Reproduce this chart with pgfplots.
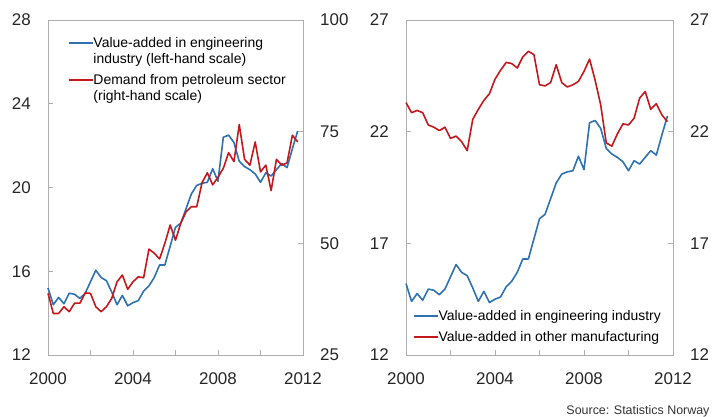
\documentclass[border=0pt]{standalone}
\usepackage{fontspec}
\setmainfont{Liberation Sans}
\usepackage{pgfplots}
\pgfplotsset{compat=1.18}
\usepackage{pgfplotstable}

\definecolor{engblue}{RGB}{46,114,178}
\definecolor{petred}{RGB}{196,24,28}
\definecolor{axgray}{RGB}{175,175,175}

% value-added in engineering industry (quarterly)
\pgfplotstableread{
t eng
2000.00 15.2
2000.25 14.4
2000.50 14.75
2000.75 14.45
2001.00 14.95
2001.25 14.9
2001.50 14.7
2001.75 14.95
2002.00 15.5
2002.25 16.05
2002.50 15.7
2002.75 15.55
2003.00 15.0
2003.25 14.4
2003.50 14.85
2003.75 14.35
2004.00 14.5
2004.25 14.6
2004.50 15.05
2004.75 15.3
2005.00 15.7
2005.25 16.3
2005.50 16.3
2005.75 17.2
2006.00 18.1
2006.25 18.3
2006.50 19.0
2006.75 19.7
2007.00 20.1
2007.25 20.2
2007.50 20.25
2007.75 20.9
2008.00 20.3
2008.25 22.4
2008.50 22.5
2008.75 22.15
2009.00 21.25
2009.25 21.0
2009.50 20.85
2009.75 20.65
2010.00 20.25
2010.25 20.7
2010.50 20.55
2010.75 20.85
2011.00 21.15
2011.25 20.95
2011.50 21.85
2011.75 22.7
}\engtab

% demand from petroleum sector (right-hand scale)
\pgfplotstableread{
t oil
2000.00 38.8
2000.25 34.3
2000.50 34.3
2000.75 35.8
2001.00 34.7
2001.25 36.6
2001.50 36.6
2001.75 38.9
2002.00 38.8
2002.25 35.8
2002.50 34.7
2002.75 35.8
2003.00 37.7
2003.25 41.4
2003.50 42.9
2003.75 39.7
2004.00 41.4
2004.25 42.5
2004.50 42.3
2004.75 48.7
2005.00 47.8
2005.25 46.5
2005.50 50.0
2005.75 54.1
2006.00 50.7
2006.25 54.5
2006.50 57.1
2006.75 58.2
2007.00 58.2
2007.25 63.6
2007.50 65.8
2007.75 63.1
2008.00 64.8
2008.25 66.8
2008.50 70.3
2008.75 68.3
2009.00 76.6
2009.25 68.8
2009.50 67.5
2009.75 72.7
2010.00 66.0
2010.25 67.5
2010.50 61.8
2010.75 68.8
2011.00 67.5
2011.25 68.0
2011.50 74.2
2011.75 72.7
}\oiltab

% value-added in other manufacturing
\pgfplotstableread{
t manu
2000.00 23.3
2000.25 22.85
2000.50 22.95
2000.75 22.85
2001.00 22.3
2001.25 22.2
2001.50 22.05
2001.75 22.2
2002.00 21.7
2002.25 21.8
2002.50 21.55
2002.75 21.15
2003.00 22.55
2003.25 23.0
2003.50 23.4
2003.75 23.7
2004.00 24.35
2004.25 24.75
2004.50 25.1
2004.75 25.05
2005.00 24.85
2005.25 25.35
2005.50 25.6
2005.75 25.45
2006.00 24.1
2006.25 24.05
2006.50 24.2
2006.75 25.0
2007.00 24.2
2007.25 24.0
2007.50 24.1
2007.75 24.25
2008.00 24.7
2008.25 25.25
2008.50 24.3
2008.75 23.2
2009.00 21.5
2009.25 21.35
2009.50 21.9
2009.75 22.35
2010.00 22.3
2010.25 22.6
2010.50 23.5
2010.75 23.8
2011.00 23.0
2011.25 23.25
2011.50 22.75
2011.75 22.45
}\manutab

\tikzset{series/.style={line width=1.6bp, line join=round}}
\newcommand{\legtext}[1]{\begin{tabular}[t]{@{}l@{}}#1\end{tabular}}

\pgfplotsset{
  panel/.style={
    scale only axis, anchor=south west,
    height=335bp,
    xmin=2000, xmax=2012,
    xtick={2000,2004,2008,2012}, minor xtick={2002,2006,2010},
    tick align=inside, major tick length=5bp, minor tick length=5bp,
    axis line style={axgray, line width=0.8bp},
    every tick/.style={axgray, line width=0.8bp},
    tick label style={font=\fontsize{17}{17}\selectfont, text=black!85},
    /pgf/number format/assume math mode=true,
    /pgf/number format/1000 sep={},
    xticklabel style={inner sep=0pt, anchor=north, yshift=-17bp},
    yticklabel style={inner sep=0pt},
    clip=false,
  },
  leftscale/.style={panel, tick pos=left, yticklabel style={anchor=east, xshift=-17bp}},
  rightscale/.style={panel, axis y line*=right, axis x line=none,
    yticklabel style={anchor=west, xshift=17bp}},
  leg/.style={
    legend cell align=left,
    legend image code/.code={\draw[##1, line width=1.6bp] (0bp,5bp) -- (24bp,5bp);},
    legend style={draw=none, fill=none, inner sep=0pt, outer sep=0pt,
      row sep=5bp, font=\fontsize{14}{16}\selectfont,
      cells={anchor=base west}, nodes={inner sep=0pt, text depth=, text height=},
      /tikz/every even column/.append style={column sep=1.5bp}},
  },
}

\begin{document}
\begin{tikzpicture}
\useasboundingbox (0,0) rectangle (715bp,417bp);

% left panel
\begin{axis}[leftscale, at={(48bp,62bp)}, width=255bp,
  ymin=12, ymax=28, ytick={12,16,20,24,28}]
  \addplot[series, engblue] table[x=t, y=eng] {\engtab};
\end{axis}
\begin{axis}[rightscale, at={(48bp,62bp)}, width=255bp,
  ymin=25, ymax=100, ytick={25,50,75,100},
  leg, legend style={at={(0.078,0.950)}, anchor=north west}]
  \addlegendimage{series, engblue}
  \addlegendentry{\legtext{Value-added in engineering\\industry (left-hand scale)}}
  \addplot[series, petred] table[x=t, y=oil] {\oiltab};
  \addlegendentry{\legtext{Demand from petroleum sector\\(right-hand scale)}}
\end{axis}

% right panel
\begin{axis}[leftscale, at={(406bp,62bp)}, width=267bp,
  ymin=12, ymax=27, ytick={12,17,22,27},
  leg, legend style={at={(0.026,0.135)}, anchor=north west}]
  \addplot[series, engblue] table[x=t, y=eng] {\engtab};
  \addlegendentry{\legtext{Value-added in engineering industry}}
  \addplot[series, petred] table[x=t, y=manu] {\manutab};
  \addlegendentry{\legtext{Value-added in other manufacturing}}
\end{axis}
\begin{axis}[rightscale, at={(406bp,62bp)}, width=267bp,
  ymin=12, ymax=27, ytick={12,17,22,27}]
\end{axis}

\node[anchor=base east, font=\fontsize{12.5}{12.5}\selectfont, text=black!80]
  at (713bp,2.5bp) {Source: Statistics Norway};
\end{tikzpicture}
\end{document}
